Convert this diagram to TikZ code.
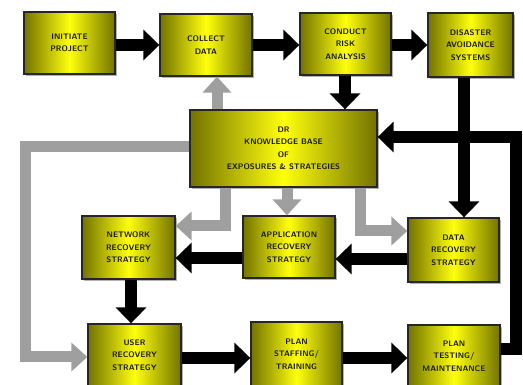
\documentclass[tikz,border=0pt]{standalone}
\usetikzlibrary{arrows.meta,shadows}
\begin{document}
\begin{tikzpicture}[x=1pt,y=-1pt,
  box/.style={draw=black!85, line width=1.3pt,
    left color=yellow!45!black, right color=yellow!45!black, middle color=yellow!95!white,
    drop shadow={shadow xshift=2pt,shadow yshift=-2pt,opacity=.6},
    align=center, inner sep=0pt, text=black!90,
    font=\sffamily\bfseries\fontsize{8}{12.5}\selectfont},
  blk/.style={line width=12pt, draw=black, -{Triangle[length=16pt,width=30pt]}},
  gry/.style={line width=11pt, draw=gray!75, -{Triangle[length=16pt,width=28pt]}}]
\useasboundingbox (0,0) rectangle (523,385);
% nodes
\node[box,minimum width=91pt,minimum height=62pt] (init) at (69.5,43) {INITIATE\\PROJECT};
\node[box,minimum width=92pt,minimum height=62pt] (collect) at (206,45) {COLLECT\\DATA};
\node[box,minimum width=91pt,minimum height=62pt] (conduct) at (345.5,44) {CONDUCT\\RISK\\ANALYSIS};
\node[box,minimum width=85pt,minimum height=64pt] (disaster) at (470.5,45) {DISASTER\\AVOIDANCE\\SYSTEMS};
\node[box,minimum width=187pt,minimum height=77pt] (kb) at (283.5,148.5) {DR\\KNOWLEDGE BASE\\OF\\EXPOSURES \& STRATEGIES};
\node[box,minimum width=93pt,minimum height=63pt] (network) at (128.5,247.5) {NETWORK\\RECOVERY\\STRATEGY};
\node[box,minimum width=92pt,minimum height=62pt] (app) at (289,247) {APPLICATION\\RECOVERY\\STRATEGY};
\node[box,minimum width=91pt,minimum height=64pt] (data) at (453.5,250) {DATA\\RECOVERY\\STRATEGY};
\node[box,minimum width=93pt,minimum height=62pt] (user) at (134.5,355) {USER\\RECOVERY\\STRATEGY};
\node[box,minimum width=91pt,minimum height=64pt] (staffing) at (296.5,354) {PLAN\\STAFFING/\\TRAINING};
\node[box,minimum width=92pt,minimum height=62pt] (testing) at (454,356) {PLAN\\TESTING/\\MAINTENANCE};
% black arrows
\draw[blk] (init.east |- 0,45) -- (collect.west |- 0,45);
\draw[blk] (collect.east |- 0,45) -- (conduct.west |- 0,45);
\draw[blk] (conduct.east |- 0,45) -- (disaster.west |- 0,45);
\draw[blk] (conduct.south -| 345,0) -- (kb.north -| 345,0);
\draw[blk] (disaster.south -| 464,0) -- (data.north -| 464,0);
\draw[blk] (testing.east |- 0,349) -- (516,349) -- (516,137) -- (kb.east |- 0,137);
\draw[blk] (network.south -| 131,0) -- (user.north -| 131,0);
\draw[blk] (app.west |- 0,258) -- (network.east |- 0,258);
\draw[blk] (data.west |- 0,259) -- (app.east |- 0,259);
\draw[blk] (user.east |- 0,358) -- (staffing.west |- 0,358);
\draw[blk] (staffing.east |- 0,358) -- (testing.west |- 0,358);
% gray arrows
\draw[gry] (kb.north -| 217,0) -- (collect.south -| 217,0);
\draw[gry] (kb.west |- 0,147) -- (25,147) |- (user.west |- 0,357);
\draw[gry] (kb.south -| 225,0) |- (network.east |- 0,226);
\draw[gry] (kb.south -| 287,0) -- (app.north -| 287,0);
\draw[gry] (kb.south -| 360,0) |- (data.west |- 0,231);
\end{tikzpicture}
\end{document}
